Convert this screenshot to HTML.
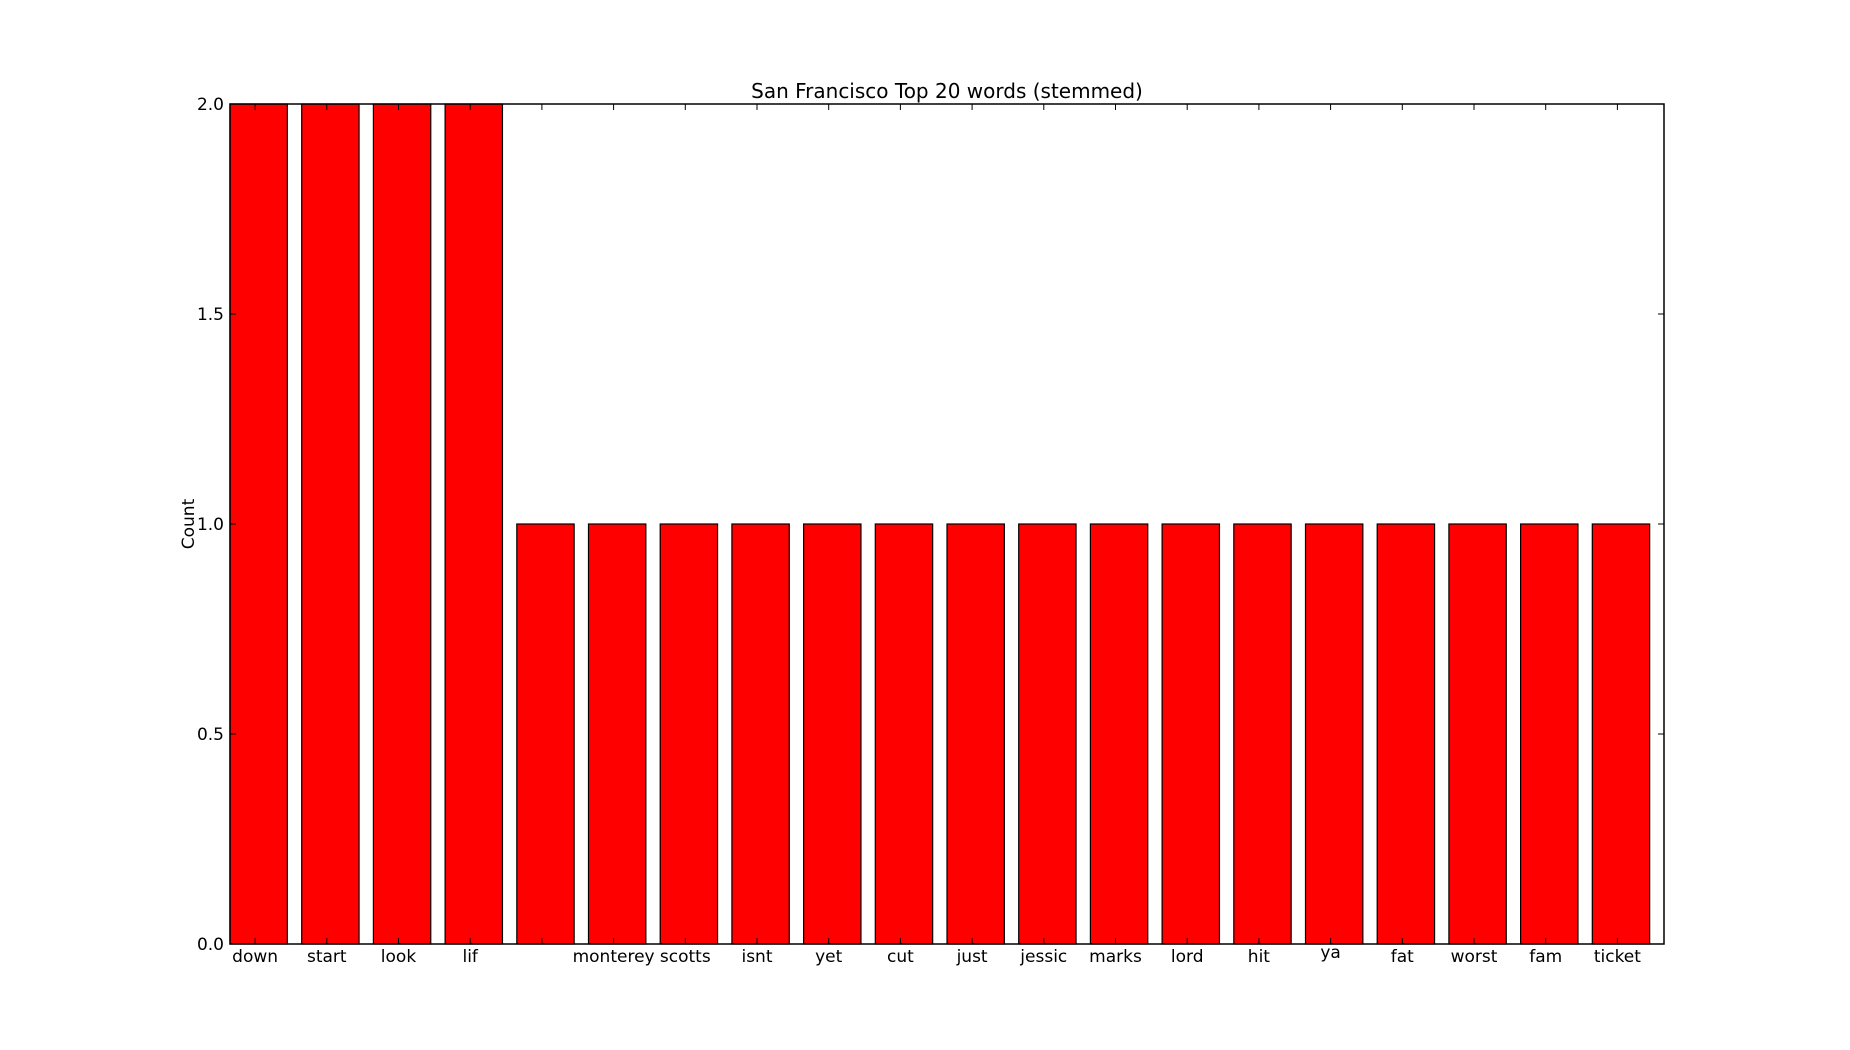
<!DOCTYPE html>
<html><head><meta charset="utf-8"><style>
body{margin:0;background:#fff;}
svg{display:block;font-family:"DejaVu Sans","Liberation Sans",sans-serif;}
</style></head><body>
<svg id="chart" width="1850" height="1050" xmlns="http://www.w3.org/2000/svg">
<rect width="1850" height="1050" fill="#fff"/>
<text x="947" y="98" font-size="20" text-anchor="middle">San Francisco Top 20 words (stemmed)</text>
<text transform="translate(194,524) rotate(-90)" font-size="17" text-anchor="middle">Count</text>
<g id="bars"></g>
<g id="ticks"></g>
<rect x="230" y="104" width="1434" height="840" fill="none" stroke="#000" stroke-width="1.5"/>
</svg>
<script>
const categories = ["down","start","look","lif","","monterey","scotts","isnt","yet","cut","just","jessic","marks","lord","hit","ya","fat","worst","fam","ticket"];
const counts = [2,2,2,2,1,1,1,1,1,1,1,1,1,1,1,1,1,1,1,1];
const yTicks = [0.0,0.5,1.0,1.5,2.0];
const yTickLabels = ["0.0","0.5","1.0","1.5","2.0"];

const X0=230,X1=1664,Y0=944,Y1=104,YMAX=2;
const NS="http://www.w3.org/2000/svg";
const pitch=(X1-X0)/categories.length;
const xs=i=>X0+i*pitch;
const ys=v=>Y0-(v/YMAX)*(Y0-Y1);
const bars=document.getElementById('bars');
const ticks=document.getElementById('ticks');
function mk(t,a){const e=document.createElementNS(NS,t);for(const k in a)e.setAttribute(k,a[k]);return e;}
categories.forEach((c,i)=>{
  const r=mk('rect',{x:xs(i),y:ys(counts[i]),width:pitch*0.8,height:Y0-ys(counts[i]),fill:'#ff0000',stroke:'#000','stroke-width':1.2});
  
  
  bars.appendChild(r);
  const tx=xs(i)+pitch*0.35;
  const t1=mk('line',{x1:tx,x2:tx,y1:Y0,y2:Y0-6,stroke:'#000'});
  
  
  ticks.appendChild(t1);
  const t2=mk('line',{x1:tx,x2:tx,y1:Y1,y2:Y1+6,stroke:'#000'});
  
  
  ticks.appendChild(t2);
  const asc=/[bdfhkltij]/.test(c);
  const lb=mk('text',{x:tx,y:asc?962:958,'font-size':17,'text-anchor':'middle'});
  lb.textContent=c;
  
  
  ticks.appendChild(lb);
});
yTicks.forEach((v,i)=>{
  const y=ys(v);
  const a=mk('line',{x1:X0,x2:X0+6,y1:y,y2:y,stroke:'#000'});
  
  
  ticks.appendChild(a);
  const b=mk('line',{x1:X1,x2:X1-6,y1:y,y2:y,stroke:'#000'});
  
  
  ticks.appendChild(b);
  const lb=mk('text',{x:224,y:y+6,'font-size':17,'text-anchor':'end'});
  lb.textContent=yTickLabels[i];
  
  
  ticks.appendChild(lb);
});
</script>
</body></html>
